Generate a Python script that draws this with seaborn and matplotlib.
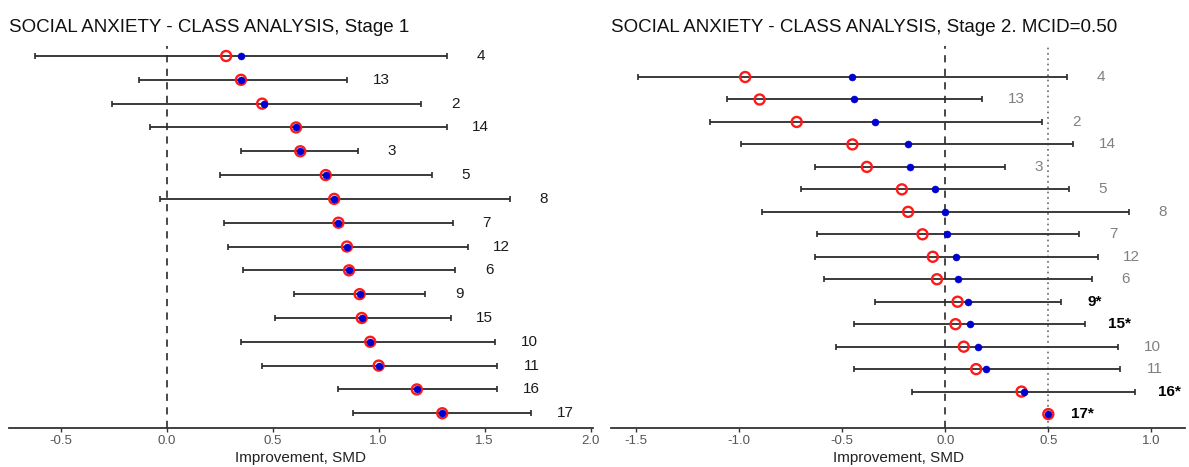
import matplotlib
matplotlib.use("Agg")
import matplotlib.pyplot as plt
import numpy as np
import pandas as pd
import seaborn as sns

# ---------------------------------------------------------------------------
# Data
# ---------------------------------------------------------------------------
classes = ["4", "13", "2", "14", "3", "5", "8", "7", "12", "6", "9", "15", "10", "11", "16", "17"]

# Stage 1
s1_lo = [-0.62, -0.13, -0.26, -0.08, 0.35, 0.25, -0.03, 0.27, 0.29, 0.36, 0.60, 0.51, 0.35, 0.45, 0.81, 0.88]
s1_hi = [1.32, 0.85, 1.20, 1.32, 0.90, 1.25, 1.62, 1.35, 1.42, 1.36, 1.22, 1.34, 1.55, 1.56, 1.56, 1.72]
s1_est = [0.35, 0.35, 0.46, 0.61, 0.63, 0.75, 0.79, 0.81, 0.85, 0.86, 0.91, 0.92, 0.96, 1.00, 1.18, 1.30]
s1_adj = [0.28, 0.35, 0.45, 0.61, 0.63, 0.75, 0.79, 0.81, 0.85, 0.86, 0.91, 0.92, 0.96, 1.00, 1.18, 1.30]

# Stage 2
s2_lo = [-1.49, -1.06, -1.14, -0.99, -0.63, -0.70, -0.89, -0.62, -0.63, -0.59, -0.34, -0.44, -0.53, -0.44, -0.16, 0.50]
s2_hi = [0.59, 0.18, 0.47, 0.62, 0.29, 0.60, 0.89, 0.65, 0.74, 0.71, 0.56, 0.68, 0.84, 0.85, 0.92, 0.50]
s2_est = [-0.45, -0.44, -0.34, -0.18, -0.17, -0.05, 0.00, 0.01, 0.05, 0.06, 0.11, 0.12, 0.16, 0.20, 0.38, 0.50]
s2_adj = [-0.97, -0.90, -0.72, -0.45, -0.38, -0.21, -0.18, -0.11, -0.06, -0.04, 0.06, 0.05, 0.09, 0.15, 0.37, 0.50]
s2_sig = ["9", "15", "16", "17"]

MCID = 0.50

s1_ticks = [-0.5, 0.0, 0.5, 1.0, 1.5, 2.0]
s2_ticks = [-1.5, -1.0, -0.5, 0.0, 0.5, 1.0]

# ---------------------------------------------------------------------------
# Style
# ---------------------------------------------------------------------------
sns.set_theme(style="white")
plt.rcParams["font.family"] = ["Liberation Sans", "DejaVu Sans"]
plt.rcParams["axes.unicode_minus"] = False


def class_panel(ax, lo, hi, est, adj, sig=None, ref=None):
    df = pd.DataFrame({
        "cls": classes,
        "row": np.arange(len(classes)),
        "lo": lo, "hi": hi, "est": est, "adj": adj,
    })
    ax.axvline(0, color="#3a3a3a", lw=1.3, ls=(0, (4, 3.5)), zorder=1)
    if ref is not None:
        ax.axvline(ref, color="#666666", lw=1.2, ls=(0, (1, 2.2)), zorder=1)

    ax.errorbar(df["est"], df["row"],
                xerr=[df["est"] - df["lo"], df["hi"] - df["est"]],
                fmt="none", ecolor="#2b2b2b", elinewidth=1.3,
                capsize=2.5, capthick=1.2, zorder=2)

    sns.scatterplot(data=df, x="adj", y="row", ax=ax, marker="o", s=52,
                    facecolor="none", edgecolor="#ff1a1a", linewidth=1.7,
                    zorder=3, legend=False)
    sns.scatterplot(data=df, x="est", y="row", ax=ax, marker="o", s=26,
                    color="#0000d0", edgecolor="#0000d0", linewidth=0.3,
                    zorder=4, legend=False)

    for _, r in df.iterrows():
        if sig is None:
            txt, col, wt = r["cls"], "#1a1a1a", "normal"
        elif r["cls"] in sig:
            txt, col, wt = r["cls"] + "*", "black", "bold"
        else:
            txt, col, wt = r["cls"], "#808080", "normal"
        ax.annotate(txt, xy=(max(r["hi"], r["est"]), r["row"]),
                    xytext=(24.5, 0), textcoords="offset points",
                    ha="center", va="center", fontsize=11,
                    color=col, fontweight=wt)

    for s in ["left", "top", "right"]:
        ax.spines[s].set_visible(False)
    ax.spines["bottom"].set_color("#333333")
    ax.spines["bottom"].set_linewidth(1.3)
    ax.set_yticks([])
    ax.set_ylabel("")
    ax.tick_params(axis="x", length=3, width=1.0, color="#333333",
                   labelcolor="#555555", labelsize=9.5, pad=2, bottom=True)
    ax.set_xlabel("Improvement, SMD", fontsize=11, color="#222222", labelpad=3)


fig = plt.figure(figsize=(11.89, 4.67), dpi=100)
ax1 = fig.add_axes([0.0075, 0.0835, 0.491, 0.818])
ax2 = fig.add_axes([0.514, 0.0835, 0.483, 0.818])

class_panel(ax1, s1_lo, s1_hi, s1_est, s1_adj)
ax1.set_xlim(-0.745, 2.01)
ax1.set_ylim(15.62, -0.42)
ax1.set_xticks(s1_ticks)
ax1.set_xticklabels([f"{t:.1f}" for t in s1_ticks])
ax1.set_title("SOCIAL ANXIETY - CLASS ANALYSIS, Stage 1", loc="left",
              fontsize=13.5, color="#111111", pad=10)

class_panel(ax2, s2_lo, s2_hi, s2_est, s2_adj, sig=s2_sig, ref=MCID)
ax2.set_xlim(-1.62, 1.165)
ax2.set_ylim(15.62, -1.38)
ax2.set_xticks(s2_ticks)
ax2.set_xticklabels([f"{t:.1f}" for t in s2_ticks])
ax2.set_title(f"SOCIAL ANXIETY - CLASS ANALYSIS, Stage 2. MCID={MCID:.2f}",
              loc="left", fontsize=13.5, color="#111111", pad=10)

fig.savefig("out.png", dpi=100)
